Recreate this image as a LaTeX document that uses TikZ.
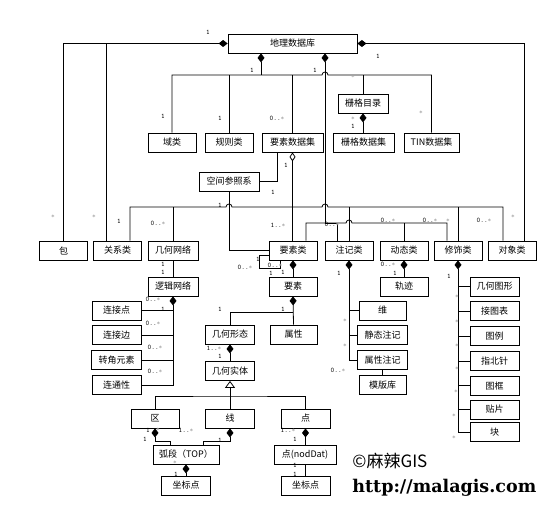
\documentclass[tikz,border=0pt]{standalone}
\usepackage{fontspec}
\usepackage{xcolor}
\usepackage{tikz}
\usetikzlibrary{arrows.meta,positioning}
\newfontfamily\cjk{Noto Sans CJK SC}
\newfontfamily\urlfont{DejaVu Serif}
\newcommand{\gst}{\textcolor{black!35}{*}}

\begin{document}
\begin{tikzpicture}[
  x=1pt, y=-1pt,
  line width=0.8pt,
  cls/.style  = {draw, fill=white, minimum height=19pt, inner sep=1pt,
                 text centered, font=\cjk\fontsize{9}{10}\selectfont},
  mult/.style = {inner sep=0pt, font=\ttfamily\fontsize{7}{7}\selectfont},
  comp/.style = {{Diamond[length=9pt,width=7pt]}-},
  aggr/.style = {{Diamond[open,length=9pt,width=6pt,fill=white]}-},
  gen/.style  = {{Triangle[open,length=7pt,width=10pt,fill=white]}-}
]
\fill[white] (0,0) rectangle (553,505);
\useasboundingbox (0,0) rectangle (553,505);

% top levels
\node[cls, minimum width=129pt] (geodb)  at (292.5,43.5) {地理数据库};
\node[cls, minimum width=50pt]  (rcat)   at (363,103.5)  {栅格目录};
\node[cls, minimum width=48pt]  (domain) at (172,142.5)  {域类};
\node[cls, minimum width=48pt]  (rules)  at (229,142.5)  {规则类};
\node[cls, minimum width=61pt]  (featds) at (292.5,142.5) {要素数据集};
\node[cls, minimum width=61pt]  (rds)    at (363.5,142.5) {栅格数据集};
\node[cls, minimum width=55pt]  (tin)    at (431.5,142.5) {TIN数据集};
\node[cls, minimum width=60pt]  (srs)    at (229,181.5)  {空间参照系};

% class row
\node[cls, minimum width=48pt] (pkg)  at (63.5,250.5)  {包};
\node[cls, minimum width=48pt] (rel)  at (117.5,250.5) {关系类};
\node[cls, minimum width=50pt] (net)  at (173,250.5)   {几何网络};
\node[cls, minimum width=48pt] (fc)   at (293,250.5)   {要素类};
\node[cls, minimum width=48pt] (anno) at (349,250.5)   {注记类};
\node[cls, minimum width=48pt] (dyn)  at (404,250.5)   {动态类};
\node[cls, minimum width=48pt] (deco) at (458,250.5)   {修饰类};
\node[cls, minimum width=48pt] (obj)  at (512,250.5)   {对象类};

% network parts
\node[cls, minimum width=50pt] (lnet)  at (173,286.5)   {逻辑网络};
\node[cls, minimum width=49pt] (jpt)   at (116.5,310.5) {连接点};
\node[cls, minimum width=49pt, below=5pt of jpt]   (jedge) {连接边};
\node[cls, minimum width=50pt, below=5pt of jedge] (turn)  {转角元素};
\node[cls, minimum width=49pt, below=5pt of turn]  (conn)  {连通性};

% feature parts
\node[cls, minimum width=48pt] (feat)    at (293,286.5)   {要素};
\node[cls, minimum width=49pt] (geoform) at (230,334.5)   {几何形态};
\node[cls, minimum width=47pt] (attr)    at (293.5,334.5) {属性};
\node[cls, minimum width=49pt] (geoent)  at (230,371)     {几何实体};
\node[cls, minimum width=48pt] (region)  at (155,418.5)   {区};
\node[cls, minimum width=49pt] (lin)     at (230,418.5)   {线};
\node[cls, minimum width=49pt] (point)   at (305.5,418.5) {点};
\node[cls, minimum width=66pt] (arcseg)  at (186,454.5)   {弧段（TOP）};
\node[cls, minimum width=62pt] (nodpt)   at (305,454.5)   {点(nodDat)};
\node[cls, minimum width=49pt] (crdL)    at (186,485.5)   {坐标点};
\node[cls, minimum width=49pt] (crdR)    at (305.5,485.5) {坐标点};

% annotation parts
\node[cls, minimum width=47pt] (dim)     at (382.5,310.5) {维};
\node[cls, minimum width=50pt, below=5pt of dim]     (stat)    {静态注记};
\node[cls, minimum width=50pt, below=5pt of stat]    (attanno) {属性注记};
\node[cls, minimum width=47pt, below=5pt of attanno] (tmpl)    {模版库};
\node[cls, minimum width=48pt] (track)   at (404,286.5)   {轨迹};

% decoration parts
\node[cls, minimum width=49pt] (shape)   at (494.5,286.5) {几何图形};
\node[cls, minimum width=49pt, below=5pt of shape]   (sheet)   {接图表};
\node[cls, minimum width=49pt, below=5pt of sheet]   (legend)  {图例};
\node[cls, minimum width=49pt, below=5pt of legend]  (compass) {指北针};
\node[cls, minimum width=49pt, below=5pt of compass] (frame)   {图框};
\node[cls, minimum width=49pt, below=4pt of frame]   (patch)   {贴片};
\node[cls, minimum width=49pt, below=3pt of patch]   (block)   {块};

% bus points
\coordinate (b1) at (261,75);
\coordinate (b2) at (293,207);
\coordinate (b3) at (325,223);
\coordinate (h1)  at (b3 |- b1);
\coordinate (h2a) at (srs.south |- b2);
\coordinate (h2b) at (b3 |- b2);
\coordinate (h3)  at (anno.north |- b3);
\coordinate (relL) at ([xshift=-11.5pt]rel.north);
\coordinate (relR) at ([xshift=12.5pt]rel.north);
\coordinate (objL) at ([xshift=-9pt]obj.north);
\coordinate (objR) at ([xshift=12pt]obj.north);
\coordinate (fcR)  at ([xshift=13pt]fc.north);
\coordinate (annoL) at ([xshift=-12pt]anno.north);
\coordinate (decoL) at ([xshift=-11pt]deco.north);
\coordinate (fdsL) at ([xshift=-15.5pt]featds.south);
\coordinate (lpA) at ([yshift=-4.5pt]fc.west);
\coordinate (lpB) at ([xshift=-13pt]fc.south);
\coordinate (lpC) at (259,268);
\coordinate (fj) at (293,312);
\coordinate (b4) at (230,396);
\coordinate (ka) at (170,441);
\coordinate (kb) at (203,441);

% geodatabase links
\draw[comp] (geodb.west) -| (pkg.north);
\draw (relL) -- (relL |- geodb.west);
\draw[comp] (geodb.east) -| (objR);
\draw[comp] (geodb.south -| b1) -- (b1);
\draw (domain.north) |- ([xshift=-3pt]h1)
  arc[start angle=180, end angle=0, radius=3pt] -| (tin.north);
\foreach \n in {rules,featds,rcat}
  \draw (\n.north) -- (\n.north |- b1);
\draw[comp] (rcat.south) -- (rcat.south |- rds.north);
\draw[comp] (geodb.south -| b3) -- (b3);

% feature dataset links
\draw[aggr] (featds.south) -- (featds.south |- fc.north);
\draw (fdsL) |- (srs.east);
\draw (srs.south) |- (fc.west);
\draw (relR) |- ([xshift=-3pt]h2a)
  arc[start angle=180, end angle=0, radius=3pt] -- ([xshift=-3pt]h2b)
  arc[start angle=180, end angle=0, radius=3pt] -| (objL);
\foreach \n in {net,anno,deco}
  \draw (\n.north) -- (\n.north |- b2);
\draw (fcR) |- ([xshift=-3pt]h3)
  arc[start angle=180, end angle=0, radius=3pt] -| (decoL);
\draw (annoL) |- (b3);
\draw (dyn.north) -- (dyn.north |- b3);
\draw (lpA) -| (lpC) -| (lpB);

% part trees
\draw (net.south) -- (lnet.north);
\draw[comp] (lnet.south) |- (conn.east);
\foreach \n in {jpt,jedge,turn}
  \draw (\n.east) -- (\n.east -| lnet.south);
\draw[comp] (fc.south) -- (feat.north);
\draw[comp] (feat.south) -- (attr.north);
\draw (fj) -| (geoform.north);
\draw[comp] (geoform.south) -- (geoent.north);
\draw[gen] (geoent.south) -- (b4);
\draw (region.north) |- (b4) -| (point.north);
\draw (lin.north) -- (b4);
\draw[comp] (region.south) |- (ka) -- (ka |- arcseg.north);
\draw[comp] (lin.south) |- (kb) -- (kb |- arcseg.north);
\draw[comp] (point.south) -- (point.south |- nodpt.north);
\draw[comp] (arcseg.south) -- (crdL.north);
\draw (nodpt.south) -- (nodpt.south |- crdR.north);
\draw[comp] (anno.south) |- (attanno.west);
\foreach \n in {dim,stat}
  \draw (\n.west) -- (\n.west -| anno.south);
\draw (attanno.south) -- (attanno.south |- tmpl.north);
\draw[comp] (dyn.south) -- (track.north);
\draw[comp] (deco.south) |- (block.west);
\foreach \n in {shape,sheet,legend,compass,frame,patch}
  \draw (\n.west) -- (\n.west -| deco.south);

% multiplicities
\foreach \x/\y/\t [count=\i] in {
  208/32/1, 378/56/1, 252/70/1, 315/70/1, 353/77/\gst,
  163/116/1, 220/118/1, 277/118/0..\gst, 353/119/\gst, 353/126/1,
  421/113/\gst, 286/165/1, 273/192/1, 220/205/1,
  53/217/\gst, 94/217/\gst, 119/221/1, 158/223/0..\gst, 278/225/1..\gst,
  332/224/0..\gst, 388/220/0..\gst, 430/220/0..\gst, 448/221/\gst,
  484/220/0..\gst, 513/217/\gst,
  258/259/1, 245/267/0..\gst, 275/265/0..\gst, 271/273/1, 283/272/1,
  163/264/1, 163/272/1, 339/273/1, 388/264/0..\gst, 395/273/1,
  449/276/1, 457/297/\gst,
  153/299/0..\gst, 163/309/1, 153/323/0..\gst, 155/347/0..\gst,
  155/371/0..\gst, 220/309/1, 283/309/1, 214/348/1..\gst, 220/356/1,
  345/321/\gst, 345/346/\gst, 338/370/0..\gst,
  457/322/\gst, 457/346/\gst, 457/369/\gst, 456/392/\gst,
  454/416/\gst, 454/438/\gst,
  148/430/1, 158/430/\gst, 145/439/1, 186/430/1..\gst, 220/440/1,
  288/430/1..\gst, 295/439/1, 175/463/\gst, 176/474/1,
  295/465/1, 295/474/1}
  \node[mult] (m\i) at (\x,\y) {\t};

% watermark
\node[anchor=west, inner sep=0pt, font=\cjk\fontsize{17}{19}\selectfont]
  (wm) at (352,461) {©麻辣GIS};
\node[anchor=west, inner sep=0pt, font=\urlfont\bfseries\fontsize{17.5}{19}\selectfont]
  (url) at (352,488) {http://malagis.com};
\end{tikzpicture}
\end{document}
